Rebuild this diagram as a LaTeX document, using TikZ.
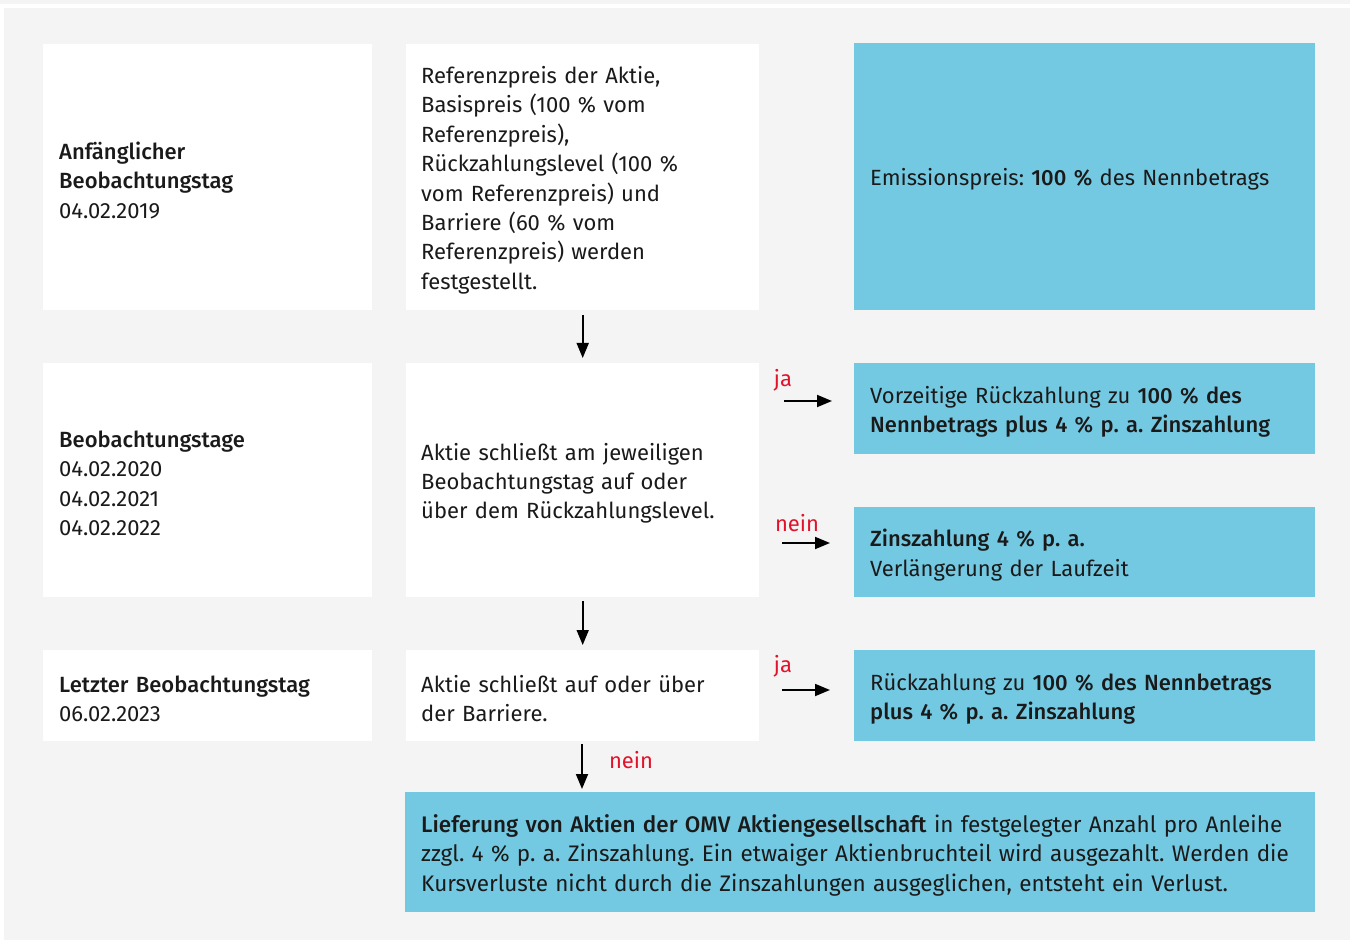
\documentclass[tikz,border=0pt]{standalone}
\usepackage{fontspec}
\setmainfont{Fira Sans}[BoldFont={Fira Sans Medium}]
\usetikzlibrary{arrows.meta}
\definecolor{bggray}{HTML}{F4F4F4}
\definecolor{omvblue}{HTML}{74C9E2}
\definecolor{omvred}{HTML}{E3122B}
\definecolor{txt}{HTML}{1A1A1A}
\frenchspacing
\newcommand{\inbox}[3]{\hspace*{#1}\raisebox{-3pt}[\height][\depth]{\parbox{#2}{\frenchspacing #3}}}
\tikzset{
  box/.style={rectangle, inner sep=0pt, anchor=north west, align=left, text=txt,
    font=\fontsize{22}{29.4}\selectfont},
  wbox/.style={box, fill=white},
  bbox/.style={box, fill=omvblue},
  flow/.style={line width=1.8pt, -{Triangle[length=15pt,width=12pt]}},
  lbl/.style={text=omvred, font=\fontsize{22}{26}\selectfont, inner sep=0pt},
}
\begin{document}
\begin{tikzpicture}[x=1pt,y=-1pt]
\useasboundingbox (0,0) rectangle (1350,941);
\fill[white] (0,0) rectangle (1350,941);
\fill[bggray] (0,0) rectangle (1350,4);
\fill[bggray] (4,8) rectangle (1350,940);

% left column
\node[wbox, minimum width=329pt, minimum height=266pt, text width=329pt] (l1) at (43,44)
  {\inbox{16pt}{300pt}{\textbf{Anfänglicher}\\\textbf{Beobachtungstag}\\04.02.2019}};
\node[wbox, minimum width=329pt, minimum height=234pt, text width=329pt] (l2) at (43,363)
  {\inbox{16pt}{300pt}{\textbf{Beobachtungstage}\\04.02.2020\\04.02.2021\\04.02.2022}};
\node[wbox, minimum width=329pt, minimum height=91pt, text width=329pt] (l3) at (43,650)
  {\inbox{16pt}{300pt}{\textbf{Letzter Beobachtungstag}\\06.02.2023}};

% middle column
\node[wbox, minimum width=353pt, minimum height=266pt, text width=353pt] (m1) at (406,44)
  {\inbox{15pt}{330pt}{Referenzpreis der Aktie,\\Basispreis (100 \% vom\\Referenzpreis),\\Rückzahlungslevel (100 \%\\vom Referenzpreis) und\\Barriere (60 \% vom\\Referenzpreis) werden\\festgestellt.}};
\node[wbox, minimum width=353pt, minimum height=234pt, text width=353pt] (m2) at (406,363)
  {\inbox{15pt}{330pt}{Aktie schließt am jeweiligen\\Beobachtungstag auf oder\\über dem Rückzahlungslevel.}};
\node[wbox, minimum width=353pt, minimum height=91pt, text width=353pt] (m3) at (406,650)
  {\inbox{15pt}{330pt}{Aktie schließt auf oder über\\der Barriere.}};

% right column
\node[bbox, minimum width=461pt, minimum height=267pt, text width=461pt] (r1) at (854,43)
  {\inbox{16pt}{440pt}{Emissionspreis: \textbf{100 \%} des Nennbetrags}};
\node[bbox, minimum width=461pt, minimum height=91pt, text width=461pt] (r2a) at (854,363)
  {\inbox{16pt}{440pt}{Vorzeitige Rückzahlung zu \textbf{100 \% des}\\\textbf{Nennbetrags plus 4 \% p. a. Zinszahlung}}};
\node[bbox, minimum width=461pt, minimum height=90pt, text width=461pt] (r2b) at (854,507)
  {\inbox{16pt}{440pt}{\textbf{Zinszahlung 4 \% p. a.}\\Verlängerung der Laufzeit}};
\node[bbox, minimum width=461pt, minimum height=91pt, text width=461pt] (r3) at (854,650)
  {\inbox{16pt}{440pt}{Rückzahlung zu \textbf{100 \% des Nennbetrags}\\\textbf{plus 4 \% p. a. Zinszahlung}}};

% bottom box
\node[bbox, minimum width=910pt, minimum height=120pt, text width=910pt] (b) at (405,792)
  {\inbox{16pt}{890pt}{\fontsize{22.5}{29.4}\selectfont\textbf{Lieferung von Aktien der OMV Aktiengesellschaft} in festgelegter Anzahl pro Anleihe\\zzgl. 4 \% p. a. Zinszahlung. Ein etwaiger Aktienbruchteil wird ausgezahlt. Werden die\\Kursverluste nicht durch die Zinszahlungen ausgeglichen, entsteht ein Verlust.}};

% vertical arrows
\draw[flow, shorten <=5pt, shorten >=5pt] (m1.south) -- (m2.north);
\draw[flow, shorten <=4pt, shorten >=5pt] (m2.south) -- (m3.north);
\draw[flow, shorten <=3pt, shorten >=3pt] (m3.south -| 582,0) -- (b.north -| 582,0);

% horizontal arrows
\coordinate (a1s) at (784,401);
\coordinate (a2s) at (782,543);
\coordinate (a3s) at (782,690);
\draw[flow] (a1s) -- ++(48,0) coordinate (a1e);
\draw[flow] (a2s) -- ++(48,0) coordinate (a2e);
\draw[flow] (a3s) -- ++(48,0) coordinate (a3e);

% labels
\node[lbl] (ja1) at (783,380) {ja};
\node[lbl] (nein1) at (797,523) {nein};
\node[lbl] (ja2) at (783,666) {ja};
\node[lbl] (nein2) at (631,760) {nein};
\end{tikzpicture}
\end{document}
